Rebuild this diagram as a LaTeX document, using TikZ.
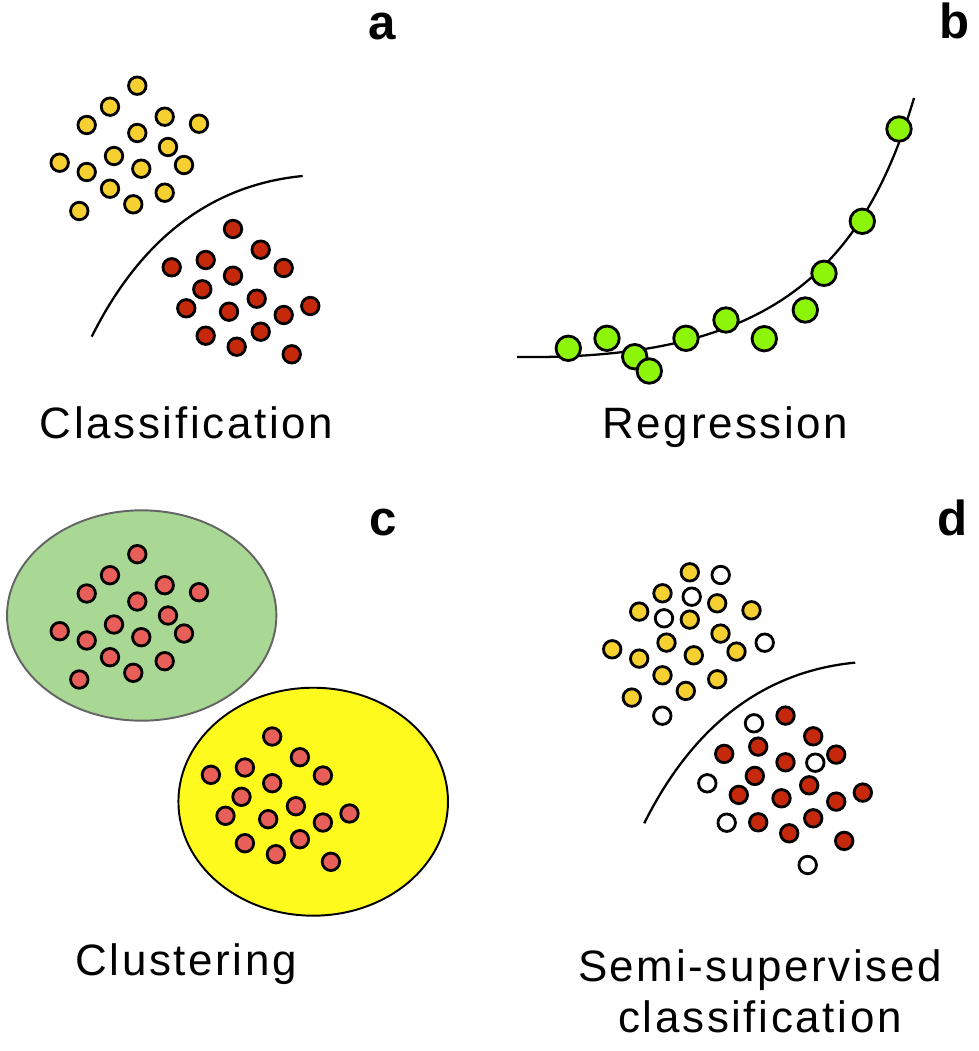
\documentclass[tikz,border=0pt]{standalone}
\usepackage{fontspec}
\setmainfont{Liberation Sans}
\newfontfamily\ptextfont[LetterSpace=6]{Liberation Sans}
\usetikzlibrary{positioning}
\definecolor{dotyellow}{RGB}{245,208,48}
\definecolor{dotred}{RGB}{197,40,10}
\definecolor{dotpink}{RGB}{232,94,88}
\definecolor{dotgreen}{RGB}{140,245,10}
\definecolor{ringgreen}{RGB}{168,216,147}
\definecolor{ringyellow}{RGB}{255,250,30}
\definecolor{ringgray}{RGB}{100,100,100}
% dot layouts (positions of panel a, in pixels)
\newcommand{\yellowgroup}{137.3/85.7, 110/106.7, 164.7/116.7, 199/123.7, 86.7/125, 137.3/133, 168/147, 114/156, 59.7/162.7, 184/165, 86.7/172, 141.3/168.7, 110/188.7, 164.7/192.7, 133.3/204.3, 79.3/211}
\newcommand{\redgroup}{233/229, 260.7/249.7, 205.7/260, 171.7/267.3, 283.7/268, 233/275.7, 202.3/289.3, 256.7/298.7, 186.3/308.3, 229/311.7, 310.3/306, 283.7/315, 205.7/335.7, 260.7/331.7, 236.7/346.7, 291.7/354.3}
\newcommand{\whitegroup}{168.2/88.4, 139.2/110.1, 111.5/131.7, 212.2/156.1, 109.8/229.1, 201.5/236.7, 262.8/276.1, 154.8/296.7, 174.2/336.1, 255.2/378.4}
\newcommand{\greengroup}{899/129, 862.3/221.3, 824/273.3, 805.3/310, 726/320, 764.3/338.7, 686/338.3, 607/338.3, 568.3/348.3, 634.7/356.7, 649.3/371}

\begin{document}
\begin{tikzpicture}[
        x=0.02cm, y=-0.02cm,
        dot/.style={circle, draw, line width=1.6pt, inner sep=0pt, minimum size=0.35cm},
        ydot/.style={dot, fill=dotyellow},
        rdot/.style={dot, fill=dotred},
        pdot/.style={dot, fill=dotpink},
        wdot/.style={dot, fill=white},
        gdot/.style={dot, fill=dotgreen, minimum size=0.49cm},
        boundary/.style={line width=1.3pt},
        tag/.style={font=\fontsize{28}{30}\selectfont\bfseries, anchor=base},
        tasktext/.style={font=\ptextfont\fontsize{25}{29}\selectfont, anchor=base, align=center}
    ]
    \useasboundingbox (0,0) rectangle (979,1051);

    % Panel a: classification
    \draw[boundary] (91.7,336.7) .. controls (140,240) and (210,185) .. (302.7,176);
    \foreach \x/\y [count=\i] in \yellowgroup
        \node[ydot] (ay\i) at (\x,\y) {};
    \foreach \x/\y [count=\i] in \redgroup
        \node[rdot] (ar\i) at (\x,\y) {};
    \node[tag] (taga) at (382,40) {a};
    \node[tasktext] (classif) at (186.5,438.5) {Classification};

    % Panel b: regression
    \draw[boundary] (517,357) .. controls (760,360) and (860,280) .. (914,98);
    \foreach \x/\y [count=\i] in \greengroup
        \node[gdot] (bg\i) at (\x,\y) {};
    \node[tag] (tagb) at (955,39) {b};
    \node[tasktext] (regr) at (725.5,438.5) {Regression};

    % Panel c: clustering
    \draw[line width=1.1pt, draw=ringgray, fill=ringgreen] (141.7,615.5) ellipse [x radius=2.694cm, y radius=2.104cm];
    \draw[line width=1.1pt, fill=ringyellow] (313.2,801.7) ellipse [x radius=2.696cm, y radius=2.28cm];
    \begin{scope}[shift={(0,468.5)}]
        \foreach \x/\y [count=\i] in \yellowgroup
            \node[pdot] (cu\i) at (\x,\y) {};
    \end{scope}
    \begin{scope}[shift={(39.2,507.5)}]
        \foreach \x/\y [count=\i] in \redgroup
            \node[pdot] (cl\i) at (\x,\y) {};
    \end{scope}
    \node[tag] (tagc) at (383,535) {c};
    \node[tasktext] (clust) at (186,975) {Clustering};

    % Panel d: semi-supervised classification
    \begin{scope}[shift={(552.5,486.6)}]
        \draw[boundary] (91.7,336.7) .. controls (140,240) and (210,185) .. (302.7,176);
        \foreach \x/\y [count=\i] in \yellowgroup
            \node[ydot] (dy\i) at (\x,\y) {};
        \foreach \x/\y [count=\i] in \redgroup
            \node[rdot] (dr\i) at (\x,\y) {};
        \foreach \x/\y [count=\i] in \whitegroup
            \node[wdot] (dw\i) at (\x,\y) {};
    \end{scope}
    \node[tag] (tagd) at (953,535) {d};
    \node[tasktext] (semi) at (760,1032) {Semi-supervised\\classification};

\end{tikzpicture}
\end{document}
